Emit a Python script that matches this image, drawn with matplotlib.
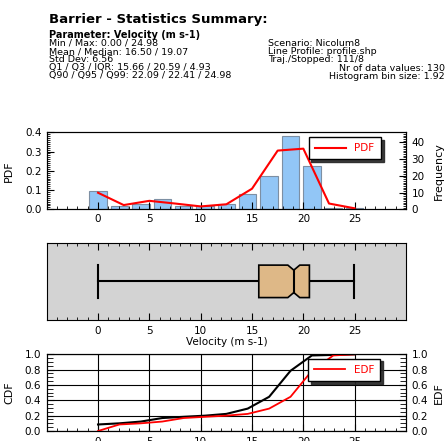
import numpy as np
import matplotlib
matplotlib.use("Agg")
import matplotlib.pyplot as plt
from matplotlib.ticker import MultipleLocator

# histogram (bin centres and counts)
bin_centers = [0.0, 2.08, 4.17, 6.25, 8.33, 10.42, 12.5, 14.58, 16.67, 18.75, 20.83, 22.92, 25.0]
counts = [11, 2, 3, 6, 2, 2, 3, 9, 20, 44, 26, 1, 1]

# PDF curve
pdf_x = [0, 2.5, 5, 7.5, 10, 12.5, 15, 17.5, 20, 22.5, 25]
pdf_y = [0.086, 0.022, 0.044, 0.030, 0.015, 0.026, 0.107, 0.305, 0.315, 0.030, 0.005]

# CDF (black) and EDF (red) at bin centres
cdf_y = [0.085, 0.10, 0.123, 0.169, 0.185, 0.20, 0.223, 0.292, 0.446, 0.785, 0.985, 0.992, 1.0]
edf_y = [0.0, 0.085, 0.10, 0.123, 0.169, 0.185, 0.20, 0.223, 0.292, 0.446, 0.785, 0.985, 1.0]

# box plot stats
vmin, vmax = 0.00, 24.98
q1, med, q3 = 15.66, 19.07, 20.59
notch = 0.58

left_lines = ["Min / Max: 0.00 / 24.98",
              "Mean / Median: 16.50 / 19.07",
              "Std Dev: 6.56",
              "Q1 / Q3 / IQR: 15.66 / 20.59 / 4.93",
              "Q90 / Q95 / Q99: 22.09 / 22.41 / 24.98"]
right_lines = ["Scenario: Nicolum8",
               "Line Profile: profile.shp",
               "Traj./Stopped: 111/8"]
count_lines = ["Nr of data values: 130",
               "Histogram bin size: 1.92"]

W, H = 447, 441
plt.rcParams['font.family'] = 'DejaVu Sans'
plt.rcParams['font.size'] = 7.5
fig = plt.figure(figsize=(W / 100, H / 100), dpi=100)

def fx(px):
    return px / W

def fy(py):
    return 1 - py / H

# header text
fs = 6.8
ls = 0.86
fig.text(fx(48.7), fy(23.3), "Barrier - Statistics Summary:", fontsize=9.5, fontweight='bold', va='baseline')
fig.text(fx(48.7), fy(38), "Parameter: Velocity (m s-1)", fontsize=7, fontweight='bold', va='baseline')
fig.text(fx(48.7), fy(39.0), "\n".join(left_lines), fontsize=fs, va='top', linespacing=ls)
fig.text(fx(268.3), fy(39.0), "\n".join(right_lines), fontsize=fs, va='top', linespacing=ls)
fig.text(fx(445), fy(39.0 + 3 * 8.33), "\n".join(count_lines), fontsize=fs, va='top', ha='right',
         multialignment='right', linespacing=ls)

ax_l, ax_w = fx(46.7), (406 - 46.7) / W
ax1 = fig.add_axes([ax_l, fy(209.3), ax_w, 77 / H])
ax2 = fig.add_axes([ax_l, fy(320), ax_w, 77.3 / H])
ax3 = fig.add_axes([ax_l, fy(431), ax_w, 76.7 / H])

leg_kw = dict(loc='upper left', fancybox=False, shadow={'color': '0.15', 'alpha': 0.9},
              edgecolor='black', framealpha=1,
              fontsize=7.5, handlelength=3.0, borderpad=0.6, borderaxespad=0)

# --- histogram + PDF ---
ax1r = ax1.twinx()
ax1r.bar(bin_centers, counts, width=1.69, color='#92c6f6', edgecolor='#7d8fa3', linewidth=0.8)
ax1r.set_ylim(0, 46)
ax1r.yaxis.set_major_locator(MultipleLocator(10))
ax1r.yaxis.set_minor_locator(MultipleLocator(1))
ax1r.tick_params(axis='y', which='both', direction='in', pad=4)
ax1r.tick_params(which='major', length=5)
ax1r.tick_params(which='minor', length=2.5)
ax1r.set_ylabel("Frequency", fontsize=8)
ax1r.yaxis.set_label_coords(1.077, 0.5)

ax1.set_zorder(ax1r.get_zorder() + 1)
ax1.patch.set_visible(False)
ax1.plot(pdf_x, pdf_y, color='red', lw=1.5, label='PDF')
ax1.set_xlim(-5, 30)
ax1.set_ylim(0, 0.4)
ax1.xaxis.set_major_locator(MultipleLocator(5))
ax1.xaxis.set_minor_locator(MultipleLocator(1))
ax1.yaxis.set_major_locator(MultipleLocator(0.1))
ax1.yaxis.set_minor_locator(MultipleLocator(0.01))
ax1.tick_params(which='both', direction='in', pad=3.5)
ax1.tick_params(which='major', length=5)
ax1.tick_params(which='minor', length=2.5)
ax1.set_xticks([0, 5, 10, 15, 20, 25])
ax1.set_ylabel("PDF", fontsize=8)
ax1.yaxis.set_label_coords(-0.09, 0.5)
leg = ax1.legend(bbox_to_anchor=(0.729, 0.94), **leg_kw)
for t in leg.get_texts():
    t.set_color('red')

# --- box plot (notched, drawn from the stats) ---
ax2.set_facecolor('#d3d3d3')
yc, hh, dn = 1.0, 0.21, 0.065
ax2.plot([vmin, q1], [yc, yc], color='black', lw=1.5)
ax2.plot([q3, vmax], [yc, yc], color='black', lw=1.5)
ax2.plot([vmin, vmin], [yc - hh, yc + hh], color='black', lw=1.5)
ax2.plot([vmax, vmax], [yc - hh, yc + hh], color='black', lw=1.5)
bx = [q1, med - notch, med, med + notch, q3, q3, med + notch, med, med - notch, q1]
by = [yc + hh, yc + hh, yc + hh - dn, yc + hh, yc + hh, yc - hh, yc - hh, yc - hh + dn, yc - hh, yc - hh]
ax2.fill(bx, by, facecolor='#deb887', edgecolor='black', lw=1.2, zorder=3)
ax2.plot([med, med], [yc - hh + dn, yc + hh - dn], color='black', lw=1.5, zorder=4)
ax2.set_ylim(0.5, 1.5)
ax2.set_xlim(-5, 30)
ax2.set_yticks([])
ax2.xaxis.set_major_locator(MultipleLocator(5))
ax2.xaxis.set_minor_locator(MultipleLocator(1))
ax2.set_xticks([0, 5, 10, 15, 20, 25])
ax2.tick_params(axis='x', which='both', direction='in', top=True, pad=4)
ax2.tick_params(which='major', length=5)
ax2.tick_params(which='minor', length=2.5)
ax2.set_xlabel("Velocity (m s-1)", fontsize=7.5, labelpad=1)

# --- CDF / EDF ---
ax3r = ax3.twinx()
ax3.plot(bin_centers, cdf_y, color='black', lw=1.5)
ax3r.plot(bin_centers, edf_y, color='red', lw=1.3, label='EDF')
for a in (ax3, ax3r):
    a.set_ylim(0, 1)
    a.yaxis.set_major_locator(MultipleLocator(0.2))
    a.yaxis.set_minor_locator(MultipleLocator(0.05))
    a.tick_params(axis='y', which='both', direction='in', pad=4)
    a.tick_params(which='major', length=5)
    a.tick_params(which='minor', length=4)
ax3.set_xlim(-5, 30)
ax3.xaxis.set_major_locator(MultipleLocator(5))
ax3.xaxis.set_minor_locator(MultipleLocator(1))
ax3.set_xticks([0, 5, 10, 15, 20, 25])
ax3.tick_params(axis='x', which='both', direction='in', pad=4)
ax3.tick_params(axis='x', which='minor', length=2.5)
ax3.grid(True, which='major', color='black', lw=0.8)
ax3.set_ylabel("CDF", fontsize=8)
ax3.yaxis.set_label_coords(-0.09, 0.5)
ax3r.set_ylabel("EDF", fontsize=8)
ax3r.yaxis.set_label_coords(1.077, 0.5)
leg = ax3r.legend(bbox_to_anchor=(0.727, 0.944), **leg_kw)
for t in leg.get_texts():
    t.set_color('red')

fig.savefig("out.png", dpi=100)
